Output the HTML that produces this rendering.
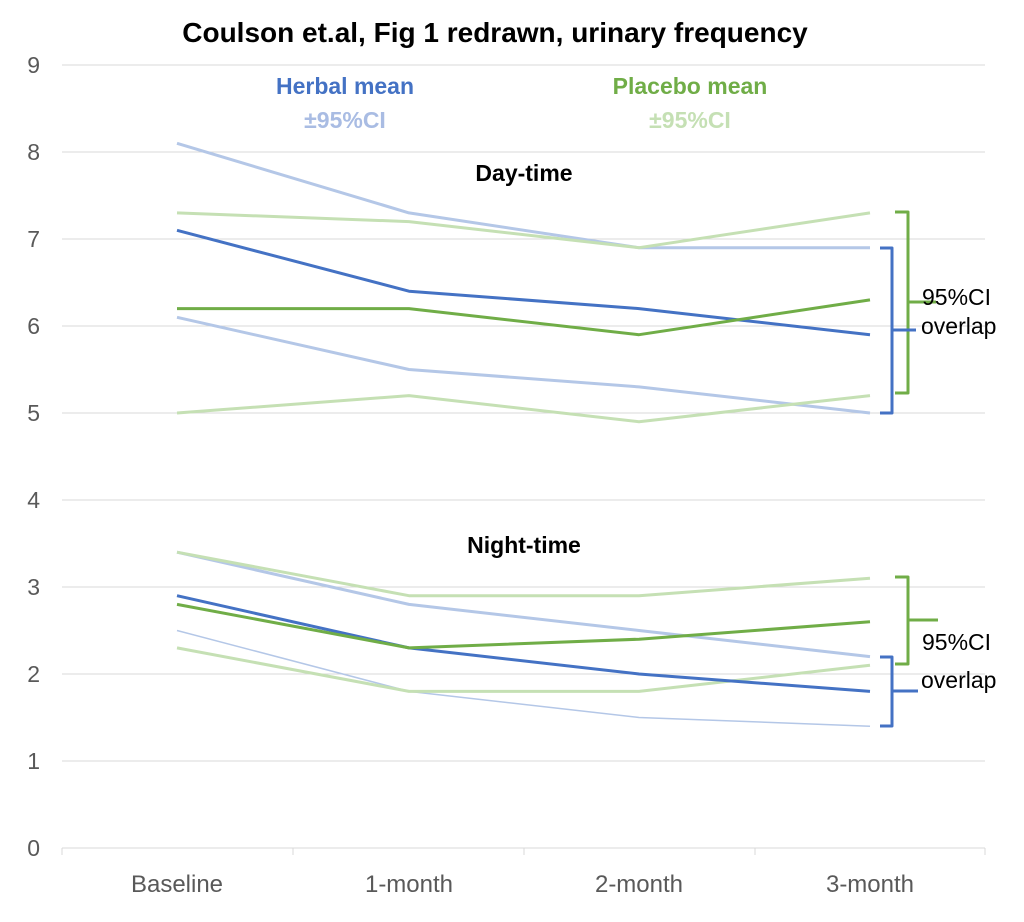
<!DOCTYPE html>
<html><head><meta charset="utf-8"><style>
html,body{margin:0;padding:0;background:#fff;}
svg text{font-family:"Liberation Sans",sans-serif;}
</style></head><body>
<svg width="1024" height="917" viewBox="0 0 1024 917" xmlns="http://www.w3.org/2000/svg">
<rect width="1024" height="917" fill="#fff"/>
<g stroke="#d9d9d9" stroke-width="1">
<line x1="62" y1="65" x2="985" y2="65"/><line x1="62" y1="152" x2="985" y2="152"/>
<line x1="62" y1="239" x2="985" y2="239"/><line x1="62" y1="326" x2="985" y2="326"/>
<line x1="62" y1="413" x2="985" y2="413"/><line x1="62" y1="500" x2="985" y2="500"/>
<line x1="62" y1="587" x2="985" y2="587"/><line x1="62" y1="674" x2="985" y2="674"/>
<line x1="62" y1="761" x2="985" y2="761"/><line x1="62" y1="848" x2="985" y2="848"/>
<line x1="62" y1="848" x2="62" y2="855"/><line x1="293" y1="848" x2="293" y2="855"/>
<line x1="524" y1="848" x2="524" y2="855"/><line x1="755" y1="848" x2="755" y2="855"/>
<line x1="985" y1="848" x2="985" y2="855"/>
</g>
<g font-size="23" fill="#595959" text-anchor="end">
<text x="40" y="73">9</text><text x="40" y="160">8</text><text x="40" y="247">7</text>
<text x="40" y="334">6</text><text x="40" y="421">5</text><text x="40" y="508">4</text>
<text x="40" y="595">3</text><text x="40" y="682">2</text><text x="40" y="769">1</text>
<text x="40" y="856">0</text>
</g>
<g font-size="24" fill="#595959" text-anchor="middle">
<text x="177" y="892">Baseline</text><text x="409" y="892">1-month</text>
<text x="639" y="892">2-month</text><text x="870" y="892">3-month</text>
</g>
<g fill="none" stroke-width="3" stroke-linejoin="round">
<polyline stroke="#b4c7e7" points="177,143.3 409,212.9 639,247.7 870,247.7"/>
<polyline stroke="#b4c7e7" points="177,317.3 409,369.5 639,386.9 870,413"/>
<polyline stroke="#c5e0b4" points="177,212.9 409,221.6 639,247.7 870,212.9"/>
<polyline stroke="#c5e0b4" points="177,413 409,395.6 639,421.7 870,395.6"/>
<polyline stroke="#4472c4" points="177,230.3 409,291.2 639,308.6 870,334.7"/>
<polyline stroke="#70ad47" points="177,308.6 409,308.6 639,334.7 870,299.9"/>
<polyline stroke="#b4c7e7" points="177,552.2 409,604.4 639,630.5 870,656.6"/>
<polyline stroke="#b4c7e7" stroke-width="1.5" points="177,630.5 409,691.4 639,717.5 870,726.2"/>
<polyline stroke="#c5e0b4" points="177,552.2 409,595.7 639,595.7 870,578.3"/>
<polyline stroke="#c5e0b4" points="177,647.9 409,691.4 639,691.4 870,665.3"/>
<polyline stroke="#4472c4" points="177,595.7 409,647.9 639,674 870,691.4"/>
<polyline stroke="#70ad47" points="177,604.4 409,647.9 639,639.2 870,621.8"/>
<path stroke="#70ad47" d="M895,212 H908 V302 M908,302 H936 M908,302 V393 H895"/>
<path stroke="#4472c4" d="M880,248 H892 V330 M892,330 H916 M892,330 V413 H880"/>
<path stroke="#70ad47" d="M895,577 H908 V620 M908,620 H938 M908,620 V664 H895"/>
<path stroke="#4472c4" d="M880,657 H892 V691 M892,691 H918 M892,691 V726 H880"/>
</g>
<g font-size="23" fill="#000">
<text x="922" y="305">95%CI</text><text x="921" y="334">overlap</text>
<text x="922" y="650">95%CI</text><text x="921" y="688">overlap</text>
</g>
<text x="495" y="42" font-size="28" font-weight="bold" text-anchor="middle">Coulson et.al, Fig 1 redrawn, urinary frequency</text>
<g font-size="23" font-weight="bold" text-anchor="middle">
<text x="345" y="94" fill="#4472c4">Herbal mean</text>
<text x="345" y="128" fill="#a9bce3">±95%CI</text>
<text x="690" y="94" fill="#70ad47">Placebo mean</text>
<text x="690" y="128" fill="#c5e0b4">±95%CI</text>
<text x="524" y="181" fill="#000">Day-time</text>
<text x="524" y="553" fill="#000">Night-time</text>
</g>
</svg>
</body></html>
